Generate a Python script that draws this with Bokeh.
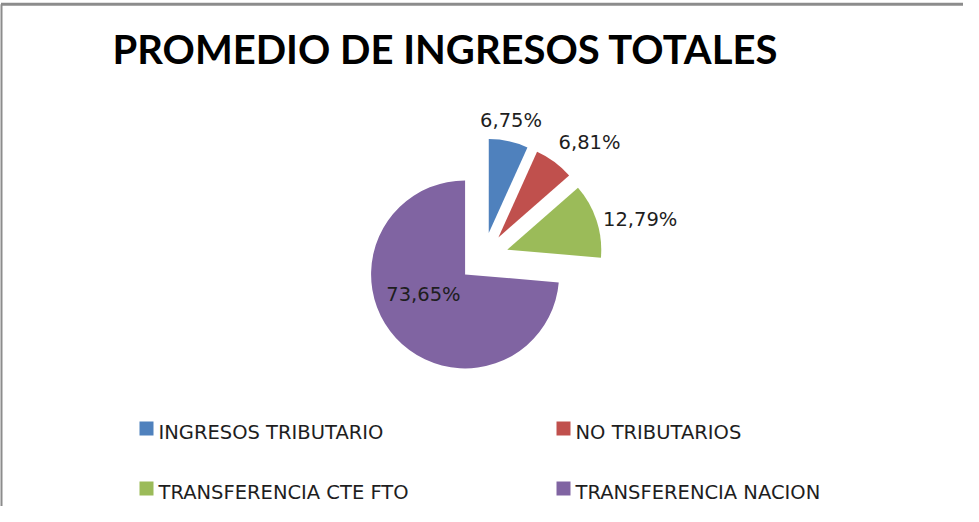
import math
from bokeh.plotting import figure
from bokeh.models import Range1d, ColumnDataSource
from bokeh.core.properties import value
from bokeh.embed import file_html
from bokeh.resources import INLINE

# ---- data ----
title_text = "PROMEDIO DE INGRESOS TOTALES"
categories = ["INGRESOS TRIBUTARIO", "NO TRIBUTARIOS",
              "TRANSFERENCIA  CTE  FTO", "TRANSFERENCIA  NACION"]
percentages = [6.75, 6.81, 12.79, 73.65]
label_texts = ["6,75%", "6,81%", "12,79%", "73,65%"]
colors = ["#4F81BD", "#C0504D", "#9BBB59", "#8064A2"]

# ---- layout / style ----
W, H = 963, 506
def sy(y):  # screen y (page pixels) -> data y
    return 522 - y

CX, CY = 491, sy(265)   # pie centre
R = 94                  # radius
EXPLODE = 25            # explode distance
LABEL_GAP = 12
label_inside = [False, False, False, True]
label_nudge = [(0, -3), (-3, -2), (-5, -3), (-7, 12)]

p = figure(width=W, height=H, output_backend="svg", toolbar_location=None,
           x_range=Range1d(8, 8 + W), y_range=Range1d(8, 8 + H),
           min_border=0, min_border_left=0, min_border_right=0,
           min_border_top=0, min_border_bottom=0)
p.axis.visible = False
p.grid.visible = False
p.outline_line_color = None
p.background_fill_color = "white"
p.border_fill_color = "white"

# frame (left and top edges visible)
p.line([8.5, 8.5], [0, sy(11.7)], line_color="#8c8c8c", line_width=3)
p.line([8.5, 8 + W], [sy(11.7), sy(11.7)], line_color="#8c8c8c", line_width=3)

# title
p.text(x=[120], y=[sy(56)], text=[title_text], text_font=value("Lato"),
       text_font_style="bold", text_font_size=value("40px"),
       text_color="#000000", text_baseline="middle", text_align="left")

# ---- pie ----
total = sum(percentages)
xs, ys, starts, ends = [], [], [], []
lx, ly, lal, lbl = [], [], [], []
cum = 0.0
for i, v in enumerate(percentages):
    a0 = math.pi / 2 - 2 * math.pi * cum / total
    cum += v
    a1 = math.pi / 2 - 2 * math.pi * cum / total
    mid = (a0 + a1) / 2
    tx = CX + EXPLODE * math.cos(mid)
    ty = CY + EXPLODE * math.sin(mid)
    xs.append(tx); ys.append(ty); starts.append(a0); ends.append(a1)
    c, s = math.cos(mid), math.sin(mid)
    nx, ny = label_nudge[i]
    if label_inside[i]:
        d = 0.5 * R
        lal.append("center"); lbl.append("middle")
    else:
        d = R + LABEL_GAP
        lal.append("left" if c > 0.3 else ("right" if c < -0.3 else "center"))
        lbl.append("bottom" if s > 0.4 else ("top" if s < -0.4 else "middle"))
    lx.append(tx + d * c + nx)
    ly.append(ty + d * s + ny)

src = ColumnDataSource(dict(x=xs, y=ys, start=starts, end=ends, color=colors))
p.wedge(x="x", y="y", radius=R, start_angle="start", end_angle="end",
        direction="clock", fill_color="color", line_color=None, source=src)

for i in range(len(label_texts)):
    p.text(x=[lx[i]], y=[ly[i]], text=[label_texts[i]],
           text_font=value("DejaVu Sans"), text_font_size=value("19.5px"),
           text_color="#1e1e1e", text_align=lal[i], text_baseline=lbl[i])

# ---- legend ----
leg_x = [154, 571, 154, 571]
leg_y = [436, 436, 496, 496]
p.scatter(x=leg_x, y=[sy(v) for v in leg_y], marker="square", size=14,
          fill_color=colors, line_color=None)
p.text(x=[v + 12 for v in leg_x], y=[sy(v + 3.5) for v in leg_y], text=categories,
       text_font=value("DejaVu Sans"), text_font_size=value("19.5px"),
       text_color="#1e1e1e", text_align="left", text_baseline="middle")

open("out.html", "w").write(file_html(p, INLINE))
